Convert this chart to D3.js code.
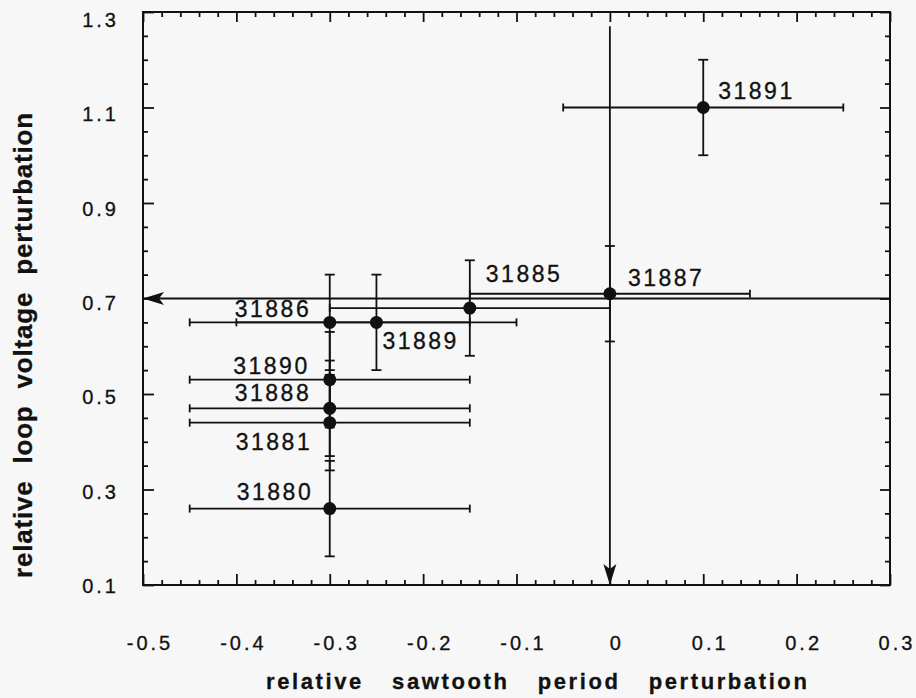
<!DOCTYPE html>
<html><head><meta charset="utf-8">
<script src="https://cdn.jsdelivr.net/npm/d3@7/dist/d3.min.js"></script>
<style>
html,body{margin:0;padding:0;background:#f7f7f7;}
svg{display:block;background:#f7f7f7;}
text{font-family:"Liberation Sans",Arial,Helvetica,sans-serif;fill:#111;stroke:#111;stroke-width:0.3px;}
</style></head><body>
<svg id="chart" width="916" height="698"></svg>
<script>
// ---- data ----
const shots = ["31891","31887","31885","31886","31889","31890","31888","31881","31880"];
const xVals = [0.10, 0.00, -0.15, -0.30, -0.25, -0.30, -0.30, -0.30, -0.30];
const yVals = [1.10, 0.71, 0.68, 0.65, 0.65, 0.53, 0.47, 0.44, 0.26];
const xErr  = [0.15, 0.15, 0.15, 0.15, 0.15, 0.15, 0.15, 0.15, 0.15];
const yErr  = [0.10, 0.10, 0.10, 0.10, 0.10, 0.10, 0.10, 0.10, 0.10];
const xTickLabels = ["-0.5","-0.4","-0.3","-0.2","-0.1","0","0.1","0.2","0.3"];
const yTickLabels = ["0.1","0.3","0.5","0.7","0.9","1.1","1.3"];
const arrowStart = [[0.30, 0.70], [0.00, 1.27]];
const arrowEnd   = [[-0.50, 0.70], [0.00, 0.10]];
const xTitle = "relative sawtooth period perturbation";
const yTitle = "relative loop voltage perturbation";

// ---- layout (pixels) ----
const labelOffset = {
  "31891":[15,-9], "31887":[18,-8], "31885":[16,-26], "31886":[-95,-5],
  "31889":[6,27], "31890":[-96.5,-6], "31888":[-95,-7], "31881":[-94,27], "31880":[-93,-9]
};

const svg = d3.select("#chart");
const x = d3.scaleLinear().domain([-0.5, 0.3]).range([143, 890]);
const y = d3.scaleLinear().domain([0.1, 1.3]).range([585, 12]);
const ink = "#111";

const pts = shots.map((s,i)=>({s, x:xVals[i], y:yVals[i], ex:xErr[i], ey:yErr[i]}));

// arrow marker
svg.append("defs").append("marker")
  .attr("id","arr").attr("markerUnits","userSpaceOnUse")
  .attr("viewBox","-22 -8 24 16").attr("refX",0).attr("refY",0)
  .attr("markerWidth",24).attr("markerHeight",16).attr("orient","auto")
  .append("path").attr("d","M0,0 L-21,-6.5 L-16,0 L-21,6.5 Z").attr("fill",ink);

const g = svg.append("g");
// error bars
const eb = g.selectAll("g.eb").data(pts).join("g").attr("class","eb")
  .attr("stroke",ink).attr("stroke-width",1.8).attr("fill","none");
eb.append("line").attr("x1",d=>x(d.x-d.ex)).attr("x2",d=>x(d.x+d.ex)).attr("y1",d=>y(d.y)).attr("y2",d=>y(d.y));
eb.append("line").attr("x1",d=>x(d.x)).attr("x2",d=>x(d.x)).attr("y1",d=>y(d.y-d.ey)).attr("y2",d=>y(d.y+d.ey));
[-1,1].forEach(sg=>{
  eb.append("line").attr("x1",d=>x(d.x+sg*d.ex)).attr("x2",d=>x(d.x+sg*d.ex)).attr("y1",d=>y(d.y)-4).attr("y2",d=>y(d.y)+4);
  eb.append("line").attr("x1",d=>x(d.x)-5).attr("x2",d=>x(d.x)+5).attr("y1",d=>y(d.y+sg*d.ey)).attr("y2",d=>y(d.y+sg*d.ey));
});

// arrows
g.selectAll("line.arrow").data(arrowStart.map((a,i)=>[a,arrowEnd[i]])).join("line")
  .attr("class","arrow")
  .attr("x1",d=>x(d[0][0])).attr("y1",d=>y(d[0][1]))
  .attr("x2",d=>x(d[1][0])).attr("y2",d=>y(d[1][1]))
  .attr("stroke",ink).attr("stroke-width",1.8).attr("marker-end","url(#arr)");

// points
g.selectAll("circle").data(pts).join("circle")
  .attr("cx",d=>x(d.x)).attr("cy",d=>y(d.y)).attr("r",6.5).attr("fill",ink);

// point labels
g.selectAll("text.lab").data(pts).join("text").attr("class","lab")
  .attr("x",d=>x(d.x)+labelOffset[d.s][0]).attr("y",d=>y(d.y)+labelOffset[d.s][1])
  .attr("font-size",23).attr("letter-spacing",2.5).text(d=>d.s);

// axes (ticks inward)
const xMajor = xTickLabels.map(Number);
const yMajor = yTickLabels.map(Number);
const xMinor = d3.range(0,41).map(i=>-0.5+i*0.02).filter(v=>!xMajor.some(m=>Math.abs(m-v)<1e-6));
const yMinor = d3.range(0,25).map(i=>0.1+i*0.05).filter(v=>!yMajor.some(m=>Math.abs(m-v)<1e-6));
function styleAxis(sel){ sel.select(".domain").remove(); sel.selectAll("line").attr("stroke",ink).attr("stroke-width",1.8); sel.selectAll("text").remove(); }
const ax = svg.append("g");
ax.append("g").attr("transform","translate(0,585)").call(d3.axisBottom(x).tickValues(xMajor).tickSize(-11)).call(styleAxis);
ax.append("g").attr("transform","translate(0,585)").call(d3.axisBottom(x).tickValues(xMinor).tickSize(-5)).call(styleAxis);
ax.append("g").attr("transform","translate(0,12)").call(d3.axisTop(x).tickValues(xMajor).tickSize(-10)).call(styleAxis);
ax.append("g").attr("transform","translate(0,12)").call(d3.axisTop(x).tickValues(xMinor).tickSize(-5)).call(styleAxis);
ax.append("g").attr("transform","translate(143,0)").call(d3.axisLeft(y).tickValues(yMajor).tickSize(-11)).call(styleAxis);
ax.append("g").attr("transform","translate(143,0)").call(d3.axisLeft(y).tickValues(yMinor).tickSize(-5)).call(styleAxis);
ax.append("g").attr("transform","translate(890,0)").call(d3.axisRight(y).tickValues(yMajor).tickSize(-10)).call(styleAxis);
ax.append("g").attr("transform","translate(890,0)").call(d3.axisRight(y).tickValues(yMinor).tickSize(-5)).call(styleAxis);
// frame
svg.append("rect").attr("x",143).attr("y",12).attr("width",890-143).attr("height",585-12)
  .attr("fill","none").attr("stroke",ink).attr("stroke-width",2);

// tick labels
svg.append("g").selectAll("text").data(xTickLabels).join("text")
  .attr("x",d=>x(+d)+7).attr("y",650).attr("text-anchor","middle")
  .attr("font-size",20).attr("letter-spacing",3).text(d=>d);
svg.append("g").selectAll("text").data(yTickLabels).join("text")
  .attr("x",119).attr("y",d=>y(+d)+8+(+d-0.1)/1.2*7).attr("text-anchor","end")
  .attr("font-size",20).attr("letter-spacing",3).text(d=>d);

// axis titles
svg.append("text").attr("x",266).attr("y",689)
  .attr("font-size",22).attr("font-weight","bold").attr("letter-spacing",2.6).attr("word-spacing",19.5)
  .text(xTitle);
svg.append("text").attr("transform","translate(32,578) rotate(-90)")
  .attr("font-size",26).attr("font-weight","bold").attr("letter-spacing",0.8).attr("word-spacing",9)
  .text(yTitle);
</script></body></html>
